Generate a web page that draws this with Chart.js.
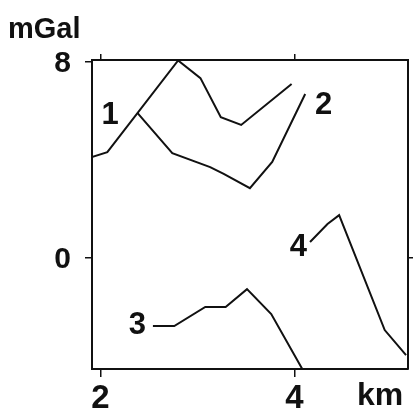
<!DOCTYPE html>
<html>
<head>
<meta charset="utf-8">
<script src="https://cdn.jsdelivr.net/npm/chart.js@4"></script>
<style>
  body { margin: 0; background: #fff; }
  #wrap { width: 413px; height: 412px; }
</style>
</head>
<body>
<div id="wrap"><canvas id="myChart" width="413" height="412"></canvas></div>
<script>
// profile curves, distance in km / anomaly in mGal
const curve1X = [1.91, 2.07, 2.80, 3.03, 3.24, 3.45, 3.97];
const curve1Y = [4.11, 4.31, 8.05, 7.33, 5.74, 5.42, 7.09];
const curve2X = [2.38, 2.74, 3.13, 3.27, 3.54, 3.77, 4.11];
const curve2Y = [5.91, 4.27, 3.70, 3.42, 2.84, 3.91, 6.68];
const curve3X = [2.54, 2.76, 3.08, 3.29, 3.51, 3.76, 4.08];
const curve3Y = [-2.79, -2.79, -2.01, -2.01, -1.28, -2.30, -4.54];
const curve4X = [4.16, 4.34, 4.46, 4.93, 5.15];
const curve4Y = [0.64, 1.38, 1.74, -2.95, -3.97];

const xTicks = [2, 4];
const yTicks = [8, 0];
const curveNames = ['1', '2', '3', '4'];

const black = '#111';
const fontName = '"Liberation Sans", Arial, sans-serif';

function toPoints(xs, ys) {
  return xs.map((x, i) => ({ x: x, y: ys[i] }));
}

function curve(xs, ys) {
  return {
    data: toPoints(xs, ys),
    showLine: true,
    borderColor: black,
    borderWidth: 2,
    pointRadius: 0,
    fill: false
  };
}

// where the curve numbers sit (data coords)
const nameSpots = [
  { x: 2.10, y: 5.82 },
  { x: 4.30, y: 6.23 },
  { x: 2.38, y: -2.75 },
  { x: 4.04, y: 0.44 }
];

const labelPlugin = {
  id: 'labels',
  afterDraw(chart) {
    const c = chart.ctx;
    const xs = chart.scales.x;
    const ys = chart.scales.y;
    const area = chart.chartArea;
    c.save();
    c.fillStyle = black;
    c.font = 'bold 31px ' + fontName;
    c.textAlign = 'center';
    c.textBaseline = 'middle';
    curveNames.forEach((n, i) => {
      c.fillText(n, xs.getPixelForValue(nameSpots[i].x), ys.getPixelForValue(nameSpots[i].y));
    });
    c.textBaseline = 'alphabetic';
    c.font = 'bold 32px ' + fontName;
    c.fillText('km', area.right - 28, area.bottom + 36);
    c.textAlign = 'left';
    c.font = 'bold 29px ' + fontName;
    c.fillText('mGal', 8, 38);
    c.restore();
  }
};

function fixedTicks(list) {
  return function (scale) {
    scale.ticks = list.map(v => ({ value: v }));
  };
}

const frame = { display: true, color: black, width: 2 };

const ctx = document.getElementById('myChart');
const myChart = new Chart(ctx, {
  type: 'scatter',
  data: {
    datasets: [
      curve(curve1X, curve1Y),
      curve(curve2X, curve2Y),
      curve(curve3X, curve3Y),
      curve(curve4X, curve4Y)
    ]
  },
  options: {
    responsive: false,
    animation: false,
    layout: { padding: 0 },
    scales: {
      x: {
        type: 'linear',
        position: 'bottom',
        min: 1.912,
        max: 5.17,
        afterBuildTicks: fixedTicks(xTicks),
        afterFit: (s) => { s.height = 43; },
        border: frame,
        grid: { drawOnChartArea: false, drawTicks: true, tickLength: 8, color: black, lineWidth: 1.5 },
        ticks: { color: black, padding: 2, font: { family: fontName, size: 33, weight: 'bold' }, maxRotation: 0 }
      },
      xTop: {
        type: 'linear',
        position: 'top',
        min: 1.912,
        max: 5.17,
        afterBuildTicks: fixedTicks(xTicks),
        afterFit: (s) => { s.height = 60; },
        border: frame,
        grid: { drawOnChartArea: false, drawTicks: true, tickLength: 6, color: black, lineWidth: 1.5 },
        ticks: { display: false }
      },
      y: {
        type: 'linear',
        position: 'left',
        min: -4.54,
        max: 8.07,
        afterBuildTicks: fixedTicks(yTicks),
        afterFit: (s) => { s.width = 92; },
        border: frame,
        grid: { drawOnChartArea: false, drawTicks: true, tickLength: 7, color: black, lineWidth: 1.5 },
        ticks: { color: black, padding: 14, labelOffset: 2, font: { family: fontName, size: 30, weight: 'bold' } }
      },
      yRight: {
        type: 'linear',
        position: 'right',
        min: -4.54,
        max: 8.07,
        afterBuildTicks: fixedTicks([0]),
        afterFit: (s) => { s.width = 5; },
        border: frame,
        grid: { drawOnChartArea: false, drawTicks: true, tickLength: 5, color: black, lineWidth: 1.5 },
        ticks: { display: false }
      }
    },
    plugins: {
      legend: { display: false },
      tooltip: { enabled: false }
    }
  },
  plugins: [labelPlugin]
});
</script>
</body>
</html>
